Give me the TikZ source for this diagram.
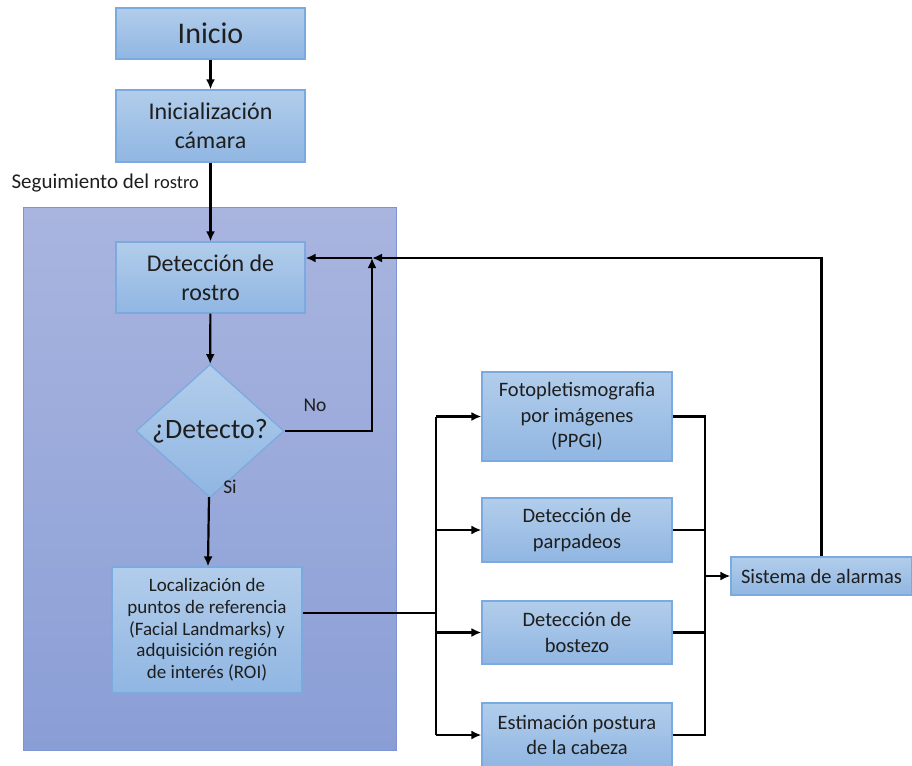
\documentclass[tikz,border=0pt]{standalone}
\usepackage{fontspec}
\setmainfont{Carlito}
\usetikzlibrary{shapes.geometric,arrows.meta}
\definecolor{boxtop}{HTML}{B2CDEB}
\definecolor{boxbot}{HTML}{90B6E2}
\definecolor{boxline}{HTML}{7AAADF}
\definecolor{regtop}{HTML}{A9B5DF}
\definecolor{regbot}{HTML}{8A9ED6}
\definecolor{regline}{HTML}{7D93D3}
\definecolor{txt}{HTML}{1E1E1E}
\begin{document}
\begin{tikzpicture}[x=1pt,y=-1pt,
  box/.style={draw=boxline, line width=1.2pt, top color=boxtop, bottom color=boxbot,
    align=center, inner sep=0pt, text=txt, font=\fontsize{24}{29}\selectfont},
  link/.style={line width=2.2pt, black},
  arr/.style={link, -{Latex[length=10pt,width=9pt]}}]
\useasboundingbox (0,0) rectangle (912,765);
% region of face tracking
\node[draw=regline, line width=1pt, top color=regtop, bottom color=regbot,
  minimum width=373pt, minimum height=543pt, inner sep=0pt] (grp) at (209.5,478.5) {};
\node[anchor=west, text=txt] (lbl) at (8,183) {\fontsize{21}{24}\selectfont Seguimiento del \fontsize{18.5}{24}\selectfont rostro};
% left column
\node[box, minimum width=189pt, minimum height=51pt, font=\fontsize{30}{34}\selectfont] (ini) at (210.5,33.5) {Inicio};
\node[box, minimum width=189pt, minimum height=72pt] (cam) at (210.5,126) {Inicialización\\cámara};
\node[box, minimum width=189pt, minimum height=71pt] (det) at (210.5,277.5) {Detección de\\rostro};
\node[box, diamond, aspect=1.11, minimum width=148pt, minimum height=133pt, font=\fontsize{28}{31}\selectfont] (dec) at (210,431) {¿Detecto?};
\node[box, minimum width=190pt, minimum height=126pt, font=\fontsize{19}{21.7}\selectfont] (loc) at (207,630)
  {Localización de\\puntos de referencia\\(Facial Landmarks) y\\adquisición región\\de interés (ROI)};
\node[text=txt, font=\fontsize{19.5}{22}\selectfont] (no) at (315,405) {No};
\node[text=txt, font=\fontsize{19.5}{22}\selectfont] (si) at (230,487) {Si};
% right column
\node[box, minimum width=190pt, minimum height=89pt, font=\fontsize{20.5}{25.5}\selectfont] (ppg) at (577,416.5) {Fotopletismografia\\por imágenes\\(PPGI)};
\node[box, minimum width=190pt, minimum height=64pt, font=\fontsize{20.5}{25.5}\selectfont] (par) at (577,530) {Detección de\\parpadeos};
\node[box, minimum width=190pt, minimum height=63pt, font=\fontsize{20.5}{25.5}\selectfont] (bos) at (577,632.5) {Detección de\\bostezo};
\node[box, minimum width=190pt, minimum height=64pt, font=\fontsize{20.5}{25.5}\selectfont] (est) at (577,735) {Estimación postura\\de la cabeza};
\node[box, minimum width=181pt, minimum height=38pt, font=\fontsize{20.5}{25.5}\selectfont] (alm) at (821.5,576) {Sistema de alarmas};
% junctions
\coordinate (j0) at (436,613);
\coordinate (j1) at (372,258);
\coordinate (j2) at (705,576);
% connectors
\draw[arr] (ini) -- (cam);
\draw[arr] (cam) -- (det);
\draw[arr] (det) -- (dec);
\draw[arr] (dec) -- (loc);
\draw[arr] (dec.east) -| (j1);
\draw[arr] (alm.north) |- (j1);
\draw[arr] (j1) -- (det.east |- j1);
\draw[link] (loc.east |- j0) -- (j0);
\draw[link] (j0 |- ppg.west) -- (j0 |- est.west);
\draw[arr] (j0 |- ppg.west) -- (ppg.west);
\draw[arr] (j0 |- par.west) -- (par.west);
\draw[arr] (j0 |- bos.west) -- (bos.west);
\draw[arr] (j0 |- est.west) -- (est.west);
\draw[link] (ppg.east) -| (j2);
\draw[link] (par.east) -- (j2 |- par.east);
\draw[link] (bos.east) -- (j2 |- bos.east);
\draw[link] (est.east) -| (j2);
\draw[arr] (j2) -- (alm.west);
\end{tikzpicture}
\end{document}
